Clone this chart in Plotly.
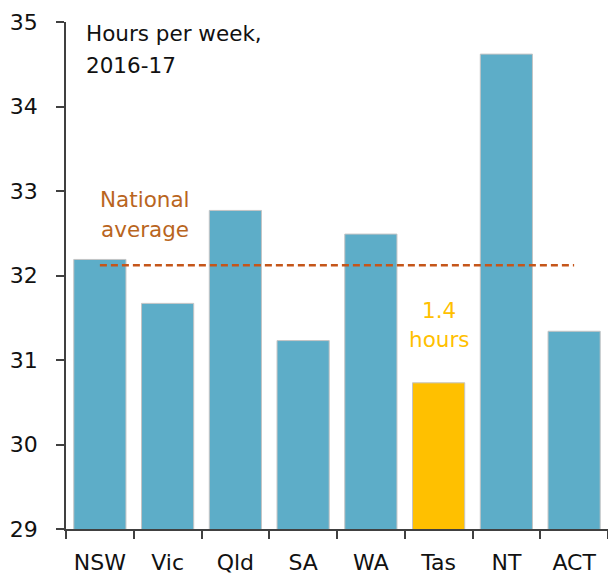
import plotly.graph_objects as go

# Average weekly hours by state/territory, 2016-17
states = ["NSW", "Vic", "Qld", "SA", "WA", "Tas", "NT", "ACT"]
hours = [32.19, 31.67, 32.77, 31.23, 32.49, 30.73, 34.62, 31.34]
national_average = 32.12
highlight_state = "Tas"
y_ticks = [29, 30, 31, 32, 33, 34, 35]

BLUE = "#5DADC8"
GOLD = "#FFC000"
RUST = "#C5561A"
RUST_TEXT = "#B9651E"
AXIS = "#404040"
FONT = "DejaVu Sans"

bar_colors = [GOLD if s == highlight_state else BLUE for s in states]

fig = go.Figure()
fig.add_trace(go.Bar(
    x=states, y=hours,
    marker=dict(color=bar_colors, line=dict(color="#C4C4C4", width=1)),
    width=0.77,
    hoverinfo="x+y",
))
fig.add_trace(go.Scatter(
    x=[states[0], states[-1]], y=[national_average, national_average],
    mode="lines",
    line=dict(color=RUST, width=2.5, dash="7px,4px"),
    hoverinfo="skip",
))

gap = national_average - hours[states.index(highlight_state)]

annotations = [
    dict(x=-0.24, y=34.86, text="Hours per week,", xanchor="left", font=dict(color="#111111")),
    dict(x=-0.24, y=34.49, text="2016-17", xanchor="left", font=dict(color="#111111")),
    dict(x=0.66, y=32.9, text="National", xanchor="center", font=dict(color=RUST_TEXT)),
    dict(x=0.66, y=32.54, text="average", xanchor="center", font=dict(color=RUST_TEXT)),
    dict(x=highlight_state, y=31.59, text=f"{gap:.1f}", xanchor="center", font=dict(color=GOLD)),
    dict(x=highlight_state, y=31.24, text="hours", xanchor="center", font=dict(color=GOLD)),
]
for a in annotations:
    a.update(xref="x", yref="y", showarrow=False, yanchor="middle")
    a["font"].update(family=FONT, size=21.5)

fig.update_layout(
    width=608, height=576,
    margin=dict(l=66, r=0, t=22, b=47),
    paper_bgcolor="white", plot_bgcolor="white",
    showlegend=False,
    bargap=0.23,
    font=dict(family=FONT, size=22, color="#111111"),
    annotations=annotations,
    xaxis=dict(
        type="category", range=[-0.5, 7.5],
        showline=True, linecolor=AXIS, linewidth=1.5,
        ticks="outside", tickson="boundaries", ticklen=8, tickcolor=AXIS, tickwidth=1.5,
        ticklabelstandoff=13,
        tickfont=dict(family=FONT, size=22, color="#111111"),
        showgrid=False, zeroline=False,
    ),
    yaxis=dict(
        range=[29, 35], tickvals=y_ticks,
        showline=True, linecolor=AXIS, linewidth=1.5,
        ticks="outside", ticklen=8, tickcolor=AXIS, tickwidth=1.5,
        ticklabelstandoff=14,
        tickfont=dict(family=FONT, size=22, color="#111111"),
        showgrid=False, zeroline=False,
    ),
)

fig.write_html("out.html")
